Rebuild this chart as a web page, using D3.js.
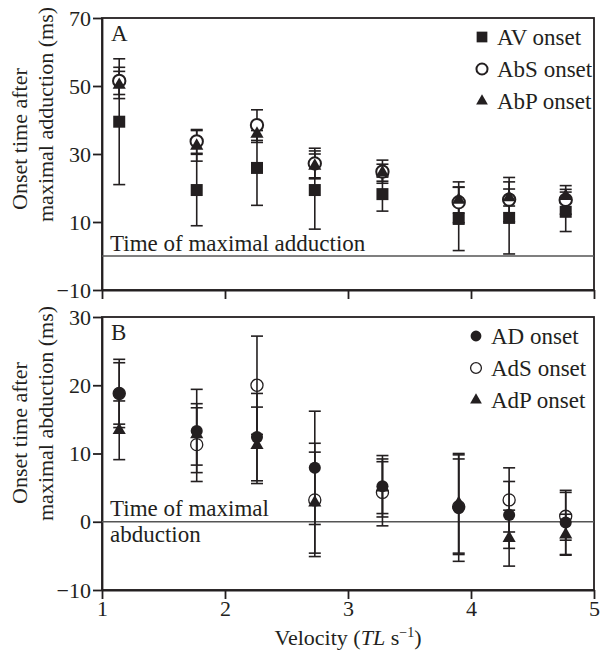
<!DOCTYPE html>
<html>
<head>
<meta charset="utf-8">
<script src="https://cdn.jsdelivr.net/npm/d3@7"></script>
<style>
  body { margin: 0; background: #fff; }
  svg text { font-family: "Liberation Serif", "Times New Roman", serif; fill: #231f20; }
</style>
</head>
<body>
<svg id="chart" width="601" height="653"></svg>
<script>
// swimming velocity of each group (TL s-1), same for both panels
const velocity = [1.14, 1.77, 2.26, 2.73, 3.28, 3.9, 4.31, 4.77];

// panel A: onset after maximal adduction (ms), mean and s.e.m.
const avOnset  = [39.5, 19.4, 25.9, 19.4, 18.2, 10.9, 11.2, 13.0];
const avErr    = [18.5, 10.5, 11.0, 11.5, 5.0, 9.3, 10.6, 5.8];
const absOnset = [51.5, 33.7, 38.5, 27.2, 24.8, 15.8, 16.6, 16.5];
const absErr   = [4.0, 3.5, 4.5, 4.5, 3.4, 6.0, 6.5, 4.2];
const abpOnset = [50.3, 32.4, 35.9, 26.5, 24.5, 16.5, 17.2, 17.6];
const abpErr   = [4.0, 4.5, 2.5, 3.5, 2.5, 3.8, 2.5, 2.0];

// panel B: onset after maximal abduction (ms)
const adOnset  = [18.8, 13.3, 12.4, 7.9, 5.2, 2.0, 1.0, -0.1];
const adErr    = [5.0, 6.1, 6.4, 8.3, 4.5, 7.8, 4.9, 4.7];
const adsOnset = [18.8, 11.3, 20.0, 3.2, 4.3, 2.2, 3.2, 0.8];
const adsErr   = [4.5, 5.4, 7.2, 8.3, 4.9, 7.0, 4.7, 3.5];
const adpOnset = [13.4, 12.8, 11.2, 2.8, 5.0, 2.7, -2.4, -1.9];
const adpErr   = [4.3, 4.5, 5.6, 7.4, 3.8, 7.3, 4.1, 3.0];

const xTicks = [1, 2, 3, 4, 5];
const yTicksA = [-10, 10, 30, 50, 70];
const yTicksB = [-10, 0, 10, 20, 30];

const ink = '#231f20';

class OnsetPanel {

    constructor(_config, _series) {
        this.config = {
            svg: _config.svg,
            left: 102, right: 594,
            top: _config.top, bottom: _config.bottom,
            yDomain: _config.yDomain,
            yTicks: _config.yTicks,
            xLabels: _config.xLabels,
            letter: _config.letter,
            note: _config.note,
            noteY: _config.noteY,
            titleLines: _config.titleLines,
            titleEnds: _config.titleEnds,
            legendX: _config.legendX,
            legendY: _config.legendY
        }
        this.series = _series;
        this.initVis();
    }

    initVis() {
        let vis = this;
        let c = vis.config;

        vis.g = c.svg.append('g');

        vis.xScale = d3.scaleLinear().domain([1, 5]).range([c.left, c.right]);
        vis.yScale = d3.scaleLinear().domain(c.yDomain).range([c.bottom, c.top]);

        vis.yAxis = d3.axisLeft(vis.yScale).tickValues(c.yTicks)
            .tickSize(9).tickSizeOuter(0).tickPadding(2);
        vis.xAxis = d3.axisBottom(vis.xScale).tickValues(xTicks)
            .tickSize(9).tickSizeOuter(0).tickPadding(1)
            .tickFormat(c.xLabels ? d3.format('d') : () => '');

        // frame around the plot area
        vis.g.append('rect')
            .attr('x', c.left).attr('y', c.top)
            .attr('width', c.right - c.left).attr('height', c.bottom - c.top)
            .attr('fill', 'none').attr('stroke', ink).attr('stroke-width', 1.8);

        vis.yAxisG = vis.g.append('g')
            .attr('transform', `translate(${c.left},0)`)
            .call(vis.yAxis);
        vis.xAxisG = vis.g.append('g')
            .attr('transform', `translate(0,${c.bottom})`)
            .call(vis.xAxis);

        [vis.yAxisG, vis.xAxisG].forEach(a => {
            a.selectAll('path, line').attr('stroke', ink).attr('stroke-width', 1.8);
            a.selectAll('text').attr('font-family', '"Liberation Serif", serif')
                .attr('font-size', 22).attr('fill', ink);
        });

        // zero line = time of maximal adduction / abduction
        vis.g.append('line')
            .attr('x1', c.left).attr('x2', c.right)
            .attr('y1', vis.yScale(0)).attr('y2', vis.yScale(0))
            .attr('stroke', '#555').attr('stroke-width', 1.5);

        vis.g.append('text')
            .attr('x', c.left + 9).attr('y', c.top + 23)
            .attr('font-size', 23).text(c.letter);

        c.note.forEach((t, i) => {
            vis.g.append('text')
                .attr('x', c.left + 8).attr('y', c.noteY[i])
                .attr('font-size', 23).text(t);
        });

        // y title, two lines, rotated
        c.titleLines.forEach((t, i) => {
            vis.g.append('text')
                .attr('transform', `translate(${27 + i * 26},${c.titleEnds[i]}) rotate(-90)`)
                .attr('font-size', 22).text(t);
        });

        vis.renderVis();
    }

    renderVis() {
        let vis = this;
        let c = vis.config;

        vis.series.forEach((s, si) => {
            let pts = velocity.map((v, i) => ({x: v, y: s.values[i], e: s.errs[i]}));
            let sg = vis.g.append('g');

            // error bars
            let bars = sg.selectAll('.bar').data(pts).join('g')
                .attr('stroke', ink).attr('stroke-width', 1.6);
            bars.append('line')
                .attr('x1', d => vis.xScale(d.x)).attr('x2', d => vis.xScale(d.x))
                .attr('y1', d => vis.yScale(d.y - d.e)).attr('y2', d => vis.yScale(d.y + d.e));
            [-1, 1].forEach(sgn => {
                bars.append('line')
                    .attr('x1', d => vis.xScale(d.x) - 6).attr('x2', d => vis.xScale(d.x) + 6)
                    .attr('y1', d => vis.yScale(d.y + sgn * d.e))
                    .attr('y2', d => vis.yScale(d.y + sgn * d.e));
            });
        });

        // markers after all bars so they sit on top
        vis.series.forEach(s => {
            vis.g.append('g').selectAll('path').data(velocity.map((v, i) => [v, s.values[i]]))
                .join('path')
                .attr('transform', d => `translate(${vis.xScale(d[0])},${vis.yScale(d[1])})`)
                .attr('d', d3.symbol().type(s.shape).size(s.size))
                .attr('fill', s.fill).attr('stroke', s.stroke ? ink : 'none')
                .attr('stroke-width', s.stroke || 0);
        });

        // legend
        vis.series.slice().sort((a, b) => a.order - b.order).forEach((s, i) => {
            let ly = c.legendY + i * 32;
            vis.g.append('path')
                .attr('transform', `translate(${c.legendX},${ly})`)
                .attr('d', d3.symbol().type(s.shape).size(s.size * 0.8))
                .attr('fill', s.fill === 'none' ? '#fff' : s.fill)
                .attr('stroke', s.stroke ? ink : 'none')
                .attr('stroke-width', s.stroke || 0);
            vis.g.append('text')
                .attr('x', c.legendX + 15).attr('y', ly + 8)
                .attr('font-size', 23).text(s.name);
        });
    }
}

const svg = d3.select('#chart');

new OnsetPanel({
    svg: svg, top: 18, bottom: 290, yDomain: [-10, 70], yTicks: yTicksA,
    xLabels: false, letter: 'A',
    note: ['Time of maximal adduction'], noteY: [251],
    titleLines: ['Onset time after', 'maximal adduction (ms)'], titleEnds: [210, 222],
    legendX: 482, legendY: 37
}, [
    {name: 'AV onset', values: avOnset, errs: avErr, shape: d3.symbolSquare, size: 144, fill: ink, order: 0},
    {name: 'AbS onset', values: absOnset, errs: absErr, shape: d3.symbolCircle, size: 120, fill: '#fff', stroke: 2, order: 1},
    {name: 'AbP onset', values: abpOnset, errs: abpErr, shape: d3.symbolTriangle, size: 75, fill: ink, order: 2}
]);

new OnsetPanel({
    svg: svg, top: 317, bottom: 590, yDomain: [-10, 30], yTicks: yTicksB,
    xLabels: true, letter: 'B',
    note: ['Time of maximal', 'abduction'], noteY: [516, 542],
    titleLines: ['Onset time after', 'maximal abduction (ms)'], titleEnds: [504, 521],
    legendX: 476, legendY: 336
}, [
    {name: 'AdS onset', values: adsOnset, errs: adsErr, shape: d3.symbolCircle, size: 115, fill: 'none', stroke: 1.3, order: 1},
    {name: 'AD onset', values: adOnset, errs: adErr, shape: d3.symbolCircle, size: 115, fill: ink, order: 0},
    {name: 'AdP onset', values: adpOnset, errs: adpErr, shape: d3.symbolTriangle, size: 75, fill: ink, order: 2}
]);

// x axis title
const xTitle = svg.append('text')
    .attr('x', 348).attr('y', 645)
    .attr('text-anchor', 'middle').attr('font-size', 22);
xTitle.append('tspan').text('Velocity (');
xTitle.append('tspan').attr('font-style', 'italic').text('TL');
xTitle.append('tspan').text(' s');
xTitle.append('tspan').attr('font-size', 14).attr('dy', -8).text('\u22121');
xTitle.append('tspan').attr('dy', 8).text(')');
</script>
</body>
</html>
